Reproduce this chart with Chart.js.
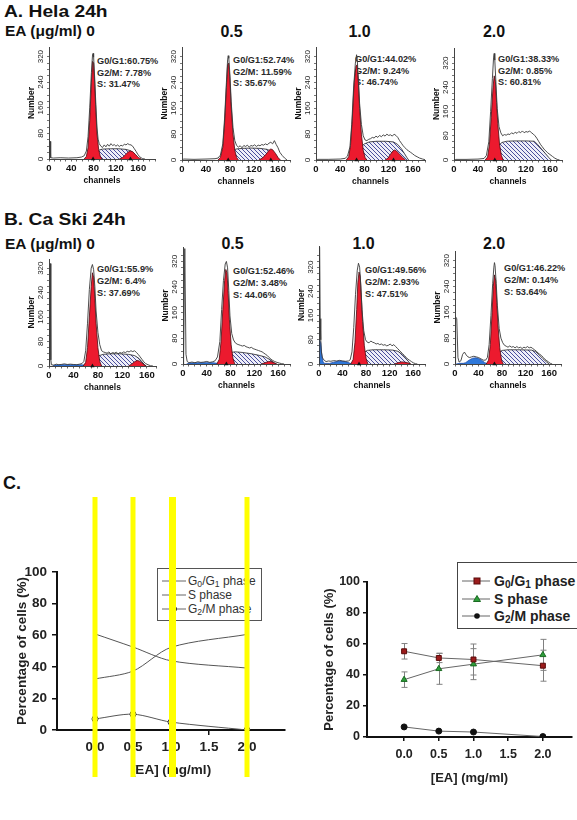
<!DOCTYPE html>
<html>
<head>
<meta charset="utf-8">
<script src="https://cdn.jsdelivr.net/npm/chart.js@4.4.1/dist/chart.umd.min.js"></script>
<style>
  body { margin: 0; background: #fff; width: 577px; height: 820px; overflow: hidden; position: relative;
         font-family: "Liberation Sans", Arial, sans-serif; color: #111; }
  .abs { position: absolute; white-space: nowrap; line-height: 1; }
  .head { font-weight: bold; font-size: 17px; transform: scaleX(1.13); transform-origin: left top; }
  .ea { font-weight: bold; font-size: 15.5px; }
  .dose { font-weight: bold; font-size: 16px; transform: translateX(-50%); }
  .stat { position: absolute; white-space: nowrap; font-weight: bold; font-size: 9.2px; color: #2a2a2a; }
  canvas { position: absolute; }
  .leg { position: absolute; background: #fff; }
  sub { font-size: 72%; vertical-align: -0.22em; line-height: 0; }
</style>
</head>
<body>

<div class="abs head" style="left:4px; top:3px;">A. Hela 24h</div>
<div class="abs head" style="left:4px; top:211px;">B. Ca Ski 24h</div>
<div class="abs head" style="left:3px; top:474px; transform:none; font-size:18px;">C.</div>

<!-- legend of the left summary chart (sits under its canvas) -->
<div class="leg" id="legL" style="left:157px; top:568px; width:103px; height:51px; border:1px solid #555; font-size:12px; color:#333;"></div>
<!-- legend of the right summary chart -->
<div class="leg" id="legR" style="left:457px; top:562px; width:130px; height:65px; border:1px solid #444; font-size:14px; font-weight:bold; color:#222; z-index:5;"></div>

<script>
// ---------- data ----------
const doses = ['0', '0.5', '1.0', '2.0'];

// percentages printed on each histogram
const helaG1 = [60.75, 52.74, 44.02, 38.33];
const helaG2 = [7.78, 11.59, 9.24, 0.85];
const helaS = [31.47, 35.67, 46.74, 60.81];
const caskiG1 = [55.9, 52.46, 49.56, 46.22];
const caskiG2 = [6.4, 3.48, 2.93, 0.14];
const caskiS = [37.69, 44.06, 47.51, 53.64];

// histogram curves, [channel, count]
const helaTotal = [
  [[0,0],[2,55],[3,4],[8,3],[20,4],[35,3],[50,4],[58,6],[63,10],[67,25],[70,70],[73,160],[76,270],[78,325],[79,330],[80,318],[82,250],[84,170],[86,100],[88,62],[90,48],[93,40],[96,36],[99,44],[102,38],[105,46],[108,40],[111,48],[114,42],[117,45],[120,40],[123,44],[126,39],[129,43],[132,41],[135,46],[138,44],[141,48],[144,45],[147,44],[150,40],[153,32],[156,24],[159,15],[162,8],[165,4],[168,1],[172,0]],
  [[0,0],[3,3],[20,2],[40,3],[55,4],[60,6],[64,15],[68,50],[71,130],[74,240],[76,310],[77,323],[78,315],[80,260],[82,180],[85,100],[88,60],[91,45],[94,40],[97,44],[100,38],[103,45],[106,42],[109,46],[112,40],[115,45],[118,43],[121,47],[124,42],[127,46],[130,44],[133,48],[136,46],[139,50],[142,47],[145,52],[148,55],[151,50],[154,60],[157,48],[160,38],[163,24],[167,14],[171,6],[175,0]],
  [[0,0],[3,2],[20,2],[40,3],[48,5],[52,12],[56,40],[59,110],[62,220],[65,300],[67,326],[68,315],[70,250],[72,175],[75,110],[78,75],[81,62],[84,60],[87,64],[90,66],[93,70],[96,68],[99,74],[102,70],[105,76],[108,72],[111,78],[114,74],[117,80],[120,76],[123,78],[126,74],[129,80],[132,76],[135,70],[138,60],[141,52],[144,44],[147,38],[150,32],[153,28],[156,24],[159,20],[163,14],[167,10],[171,6],[176,3],[182,0]],
  [[0,0],[3,2],[20,2],[40,3],[50,5],[54,15],[58,60],[61,160],[64,270],[66,340],[67,352],[68,330],[70,250],[72,170],[75,110],[78,90],[81,80],[84,84],[87,82],[90,86],[93,84],[96,90],[99,86],[102,92],[105,88],[108,94],[111,90],[114,96],[117,90],[120,94],[123,92],[126,96],[129,90],[132,86],[135,80],[138,72],[141,62],[144,52],[147,44],[150,36],[153,30],[156,24],[160,18],[164,12],[168,6],[172,2],[176,0]]
];
const helaG1Fit = [
  [[63,0],[67,8],[70,35],[73,120],[76,240],[78,305],[80,300],[82,235],[84,150],[86,80],[89,30],[92,8],[95,0]],
  [[60,0],[64,8],[68,40],[71,115],[74,225],[76,295],[78,300],[80,245],[82,165],[85,80],[88,30],[91,8],[94,0]],
  [[50,0],[54,10],[57,45],[60,130],[63,240],[66,290],[68,295],[70,240],[72,160],[75,80],[78,30],[81,8],[84,0]],
  [[52,0],[56,10],[59,50],[62,140],[65,240],[67,278],[69,260],[71,190],[73,120],[76,50],[79,15],[82,0]]
];
const helaG2Fit = [
  [[126,0],[132,5],[137,13],[142,22],[146,25],[150,23],[155,14],[160,5],[165,0]],
  [[128,0],[134,6],[140,18],[145,30],[148,34],[151,32],[156,20],[160,8],[164,0]],
  [[114,0],[119,6],[123,18],[127,28],[130,31],[133,28],[138,18],[143,8],[148,0]],
  []
];
const helaSFit = [
  [[66,0],[72,6],[78,14],[84,22],[90,28],[96,31],[110,32],[125,32],[138,30],[146,26],[152,18],[157,8],[161,0]],
  [[64,0],[70,8],[76,18],[83,28],[90,34],[100,36],[115,37],[130,36],[142,33],[150,26],[156,15],[160,5],[163,0]],
  [[55,0],[62,10],[68,25],[74,40],[80,50],[88,56],[100,58],[115,58],[128,56],[135,48],[141,35],[146,20],[150,8],[153,0]],
  [[56,0],[62,12],[68,30],[74,48],[80,58],[88,62],[100,63],[120,63],[134,62],[140,50],[146,36],[152,22],[158,8],[162,0]]
];
const helaPeaks = [[79, 146], [77, 148], [67, 128], [68]];

const caskiTotal = [
  [[0,0],[1,10],[2,335],[3,20],[4,4],[8,3],[12,6],[16,4],[20,5],[25,7],[30,5],[35,6],[40,5],[45,4],[50,6],[54,8],[57,15],[60,50],[63,140],[66,250],[69,320],[71,332],[73,315],[75,260],[77,180],[80,110],[83,70],[86,50],[89,46],[92,44],[95,42],[98,46],[101,40],[104,44],[107,42],[110,45],[113,40],[116,44],[119,42],[122,46],[125,44],[128,48],[131,46],[134,50],[137,47],[140,50],[143,44],[146,38],[149,30],[152,22],[155,14],[158,8],[162,4],[166,1],[170,0]],
  [[0,0],[1,20],[3,360],[5,30],[7,8],[10,4],[15,6],[20,4],[25,7],[30,5],[35,6],[40,8],[45,5],[50,7],[54,10],[58,22],[62,70],[65,170],[68,260],[71,312],[73,320],[75,300],[77,230],[79,150],[82,95],[85,75],[88,66],[91,62],[94,60],[97,58],[100,56],[103,58],[106,54],[109,52],[112,50],[115,52],[118,48],[121,46],[124,44],[127,42],[130,40],[133,38],[136,34],[139,30],[142,26],[145,20],[148,15],[151,11],[154,8],[158,5],[162,3],[166,1],[170,0]],
  [[0,0],[1,386],[2,150],[3,80],[4,40],[6,20],[9,12],[12,8],[16,10],[20,9],[25,11],[30,10],[35,12],[40,10],[45,9],[50,10],[53,14],[56,40],[59,120],[62,230],[65,310],[67,333],[69,320],[71,260],[73,180],[76,110],[79,80],[82,72],[85,70],[88,76],[91,72],[94,70],[97,66],[100,68],[103,64],[106,66],[109,62],[112,64],[115,60],[118,62],[121,66],[124,60],[127,64],[130,58],[133,52],[136,46],[139,40],[142,34],[145,28],[148,22],[151,16],[154,12],[157,8],[160,4],[164,1],[167,0]],
  [[0,0],[1,146],[3,140],[5,20],[7,6],[10,10],[13,30],[16,37],[19,28],[22,22],[25,20],[28,22],[32,24],[36,22],[40,20],[44,16],[48,12],[52,12],[55,20],[58,60],[61,150],[64,250],[66,300],[67,314],[68,305],[70,250],[72,180],[75,110],[78,80],[81,66],[84,58],[87,55],[90,52],[93,56],[96,52],[99,54],[102,50],[105,54],[108,50],[111,52],[114,48],[117,52],[120,50],[123,54],[126,50],[129,52],[132,48],[135,44],[138,40],[141,34],[144,30],[147,26],[150,20],[153,14],[156,10],[159,6],[162,2],[165,0]]
];
const caskiG1Fit = [
  [[56,0],[60,12],[63,60],[66,160],[69,260],[71,305],[73,290],[75,220],[77,140],[80,60],[83,15],[86,0]],
  [[57,0],[61,15],[64,70],[67,170],[70,260],[72,295],[74,285],[76,220],[78,140],[81,60],[84,18],[87,0]],
  [[54,0],[58,15],[61,70],[64,180],[66,270],[68,304],[70,290],[72,220],[74,140],[77,60],[80,18],[83,0]],
  [[53,0],[57,12],[60,60],[63,160],[65,240],[67,276],[69,260],[71,190],[73,120],[76,50],[79,12],[82,0]]
];
const caskiG2Fit = [
  [[130,0],[135,6],[140,14],[144,18],[148,16],[152,10],[156,3],[159,0]],
  [[132,0],[138,4],[144,8],[149,7],[154,3],[158,0]],
  [[128,0],[134,4],[140,7],[146,6],[152,3],[156,0]],
  []
];
const caskiSFit = [
  [[62,0],[68,10],[74,22],[80,32],[88,38],[100,40],[115,40],[130,38],[140,34],[147,25],[152,14],[156,5],[159,0]],
  [[62,0],[68,12],[74,28],[80,36],[88,38],[100,36],[115,32],[128,27],[138,22],[146,14],[152,6],[156,0]],
  [[58,0],[64,10],[70,25],[76,38],[82,45],[92,47],[110,47],[125,46],[134,42],[141,32],[147,20],[152,8],[155,0]],
  [[56,0],[62,10],[68,24],[74,36],[80,42],[90,44],[110,44],[130,43],[137,38],[143,28],[149,17],[155,7],[160,0]]
];
const caskiDebris = [
  [[6,0],[10,3],[20,4],[35,4],[50,4],[58,3],[62,0]],
  [[6,0],[12,3],[30,4],[50,4],[58,2],[62,0]],
  [[0,0],[0.5,80],[3,70],[5,25],[7,6],[10,2],[18,2],[25,6],[35,10],[45,8],[52,3],[56,0]],
  [[2,0],[8,2],[14,2],[18,4],[24,12],[30,18],[35,19],[40,17],[45,12],[50,5],[55,0]]
];
const caskiPeaks = [[71], [73], [68], [67]];

// summary charts
const eaDose = [0, 0.5, 1.0, 2.0];
const eaTicks = [0, 0.5, 1.0, 1.5, 2.0];
const pctTicks = [0, 20, 40, 60, 80, 100];
const histXTicks = [0, 40, 80, 120, 160];
const histYTicks = [0, 80, 160, 240, 320];

const leftG1 = [60.8, 52.5, 43.8, 39.2];
const leftS = [32.3, 37.3, 52.3, 60.5];
const leftG2 = [7, 10, 5, 0];

const rightG1 = [55.3, 51, 50, 46];
const rightG1Err = [5, 3, 10, 10];
const rightS = [37, 44, 47, 53];
const rightSErr = [5, 10, 10, 10];
const rightG2 = [6.5, 3.8, 3.2, 0.3];

// ---------- layout (pixels on the page) ----------
// x at channel 0, x at channel 160, y at count 0, y at count 320, x max, y max
const helaBox = [[49,139,159,57,190,350],[182,279,160,57,180,350],[316,414,160,57,180,350],[454,551,160,63,180,370]];
const caskiBox = [[49,148,366,268,175,350],[183,279,364,261,180,365],[319,414,364,267,180,390],[455,550,364,261,180,350]];
const helaStatPos = [[97,56],[233,55],[355,54],[498,54]];
const caskiStatPos = [[97,263],[233,265],[365,264],[504,262]];
const helaDosePos = [[231.5,23.5],[359.5,23.5],[494,23.5]];
const caskiDosePos = [[232.5,235.5],[363.5,235.5],[494,235.5]];

Chart.defaults.font.family = '"Liberation Sans", Arial, sans-serif';
Chart.defaults.color = '#222';

function addText(cls, html, left, top, extra) {
  const d = document.createElement('div');
  d.className = cls;
  d.innerHTML = html;
  d.style.left = left + 'px';
  d.style.top = top + 'px';
  if (extra) Object.assign(d.style, extra);
  document.body.appendChild(d);
  return d;
}

// headings
addText('abs ea', 'EA (&mu;g/ml) ' + doses[0], 5, 23.4);
addText('abs ea', 'EA (&mu;g/ml) ' + doses[0], 5, 235.9);
helaDosePos.forEach((p, i) => addText('abs dose', doses[i + 1], p[0], p[1]));
caskiDosePos.forEach((p, i) => addText('abs dose', doses[i + 1], p[0], p[1]));

function statBlock(pos, g1, g2, s, lh) {
  addText('stat', 'G0/G1:' + g1 + '%<br>G2/M: ' + g2 + '%<br>S: ' + s + '%', pos[0], pos[1], {lineHeight: lh + 'px'});
}
helaStatPos.forEach((p, i) => statBlock(p, helaG1[i], helaG2[i], helaS[i], 11.5));
caskiStatPos.forEach((p, i) => statBlock(p, caskiG1[i], caskiG2[i], caskiS[i], 12));

// blue/white diagonal hatch for the S phase fit
function makeHatch() {
  const c = document.createElement('canvas');
  c.width = 4; c.height = 4;
  const g = c.getContext('2d');
  g.fillStyle = '#eeeef8';
  g.fillRect(0, 0, 4, 4);
  g.fillStyle = '#4a4f9c';
  for (let i = 0; i < 4; i++) g.fillRect(i, i, 1, 1);
  return g.createPattern(c, 'repeat');
}
const hatch = makeHatch();

const pts = arr => arr.map(p => ({x: p[0], y: p[1]}));

function drawHist(box, total, g1, g2, s, debris, peaks) {
  const [x0, x160, y0, y320, xMax, yMax] = box;
  const pxX = (x160 - x0) / 160, pxY = (y0 - y320) / 320;
  const yTop = y0 - yMax * pxY;
  const cv = document.createElement('canvas');
  cv.width = Math.round(30 + xMax * pxX + 3);
  cv.height = Math.round(4 + yMax * pxY + 28);
  cv.style.left = (x0 - 30) + 'px';
  cv.style.top = Math.round(yTop - 4) + 'px';
  document.body.appendChild(cv);

  const redFit = d => ({data: pts(d), borderColor: '#4a0a10', borderWidth: 0.8, backgroundColor: '#ec1a2e', fill: 'origin', pointRadius: 0});
  new Chart(cv, {
    type: 'line',
    data: {
      datasets: [
        {data: peaks.map(c => ({x: c, y: 0})), showLine: false, pointStyle: 'triangle', pointRadius: 2.5,
         pointBackgroundColor: '#111', pointBorderWidth: 0, clip: false},
        {data: pts(total), borderColor: '#3a3a3a', borderWidth: 0.9, pointRadius: 0, fill: false},
        redFit(g1),
        redFit(g2),
        {data: pts(s), borderColor: '#222', borderWidth: 0.8, backgroundColor: hatch, fill: 'origin', pointRadius: 0},
        {data: pts(debris), borderColor: '#1d4aa8', borderWidth: 0.8, backgroundColor: '#2f78da', fill: 'origin', pointRadius: 0}
      ]
    },
    options: {
      animation: false, responsive: false, events: [],
      layout: {padding: {top: 4, right: 3, bottom: 0, left: 0}},
      plugins: {legend: {display: false}, tooltip: {enabled: false}},
      scales: {
        x: {
          type: 'linear', min: 0, max: xMax,
          ticks: {stepSize: 10, autoSkip: false, maxRotation: 0, padding: 1,
                  callback: v => histXTicks.includes(v) ? String(v) : '',
                  font: {size: 9.5, weight: 'bold'}, color: '#111'},
          grid: {drawOnChartArea: false, tickLength: 2.5, color: '#666'},
          border: {color: '#444', width: 1},
          title: {display: true, text: 'channels', font: {size: 8.5, weight: 'bold'}, color: '#111', padding: {top: 0, bottom: 1}},
          afterFit: a => { a.height = 28; a.paddingLeft = 0; a.paddingRight = 0; }
        },
        y: {
          min: 0, max: yMax,
          afterBuildTicks: sc => { sc.ticks = sc.ticks.filter(t => t.value % 20 === 0); },
          ticks: {stepSize: 20, autoSkip: false, minRotation: 90, maxRotation: 90, crossAlign: 'center', padding: 0,
                  callback: v => histYTicks.includes(v) ? String(v) : '',
                  font: {size: 8}, color: '#222'},
          grid: {drawOnChartArea: false, tickLength: 2, color: '#777'},
          border: {color: '#444', width: 1},
          title: {display: true, text: 'Number', font: {size: 8.5, weight: 'bold'}, color: '#111', padding: {top: 8, bottom: 0}},
          afterFit: a => { a.width = 30; a.paddingTop = 0; a.paddingBottom = 0; }
        }
      }
    }
  });
}

helaBox.forEach((b, i) => drawHist(b, helaTotal[i], helaG1Fit[i], helaG2Fit[i], helaSFit[i], [], helaPeaks[i]));
caskiBox.forEach((b, i) => drawHist(b, caskiTotal[i], caskiG1Fit[i], caskiG2Fit[i], caskiSFit[i], caskiDebris[i], caskiPeaks[i]));

// ---------- part C ----------
const xy = (xs, ys) => xs.map((x, i) => ({x: x, y: ys[i]}));

// yellow highlighter strokes over the left chart
const highlight = {
  id: 'highlight',
  afterDraw(chart, args, opts) {
    const {ctx, scales: {x}} = chart;
    ctx.save();
    ctx.fillStyle = opts.color;
    opts.at.forEach((v, i) => {
      const w = opts.widths[i];
      ctx.fillRect(x.getPixelForValue(v) - w / 2 + (opts.shift[i] || 0), opts.top, w, opts.height);
    });
    ctx.restore();
  }
};

const errorBars = {
  id: 'errorBars',
  beforeDatasetsDraw(chart) {
    const {ctx, scales: {x, y}} = chart;
    ctx.save();
    ctx.strokeStyle = '#808080';
    ctx.lineWidth = 1;
    chart.data.datasets.forEach(ds => {
      if (!ds.errors) return;
      ds.data.forEach((p, i) => {
        const e = ds.errors[i];
        const px = Math.round(x.getPixelForValue(p.x)) + 0.5;
        const t = y.getPixelForValue(p.y + e), b = y.getPixelForValue(p.y - e);
        ctx.beginPath();
        ctx.moveTo(px, t); ctx.lineTo(px, b);
        ctx.moveTo(px - 3, t); ctx.lineTo(px + 3, t);
        ctx.moveTo(px - 3, b); ctx.lineTo(px + 3, b);
        ctx.stroke();
      });
    });
    ctx.restore();
  }
};

function summaryScales(o) {
  return {
    x: {
      type: 'linear', min: o.xMin, max: o.xMax,
      afterBuildTicks: sc => { sc.ticks = eaTicks.map(v => ({value: v})); },
      ticks: {autoSkip: false, maxRotation: 0, padding: o.xPad, callback: v => v.toFixed(1),
              font: {size: o.tick, weight: 'bold'}, color: '#222'},
      grid: {drawOnChartArea: false, tickLength: o.tl, color: '#111', lineWidth: 1.5},
      border: {color: '#111', width: 2},
      title: {display: true, text: '[EA] (mg/ml)', font: {size: o.title, weight: 'bold'}, color: '#222',
              padding: {top: 0, bottom: o.xTitlePad}},
      afterFit: a => { a.height = o.xH; a.paddingLeft = 0; a.paddingRight = 0; }
    },
    y: {
      min: 0, max: 100,
      afterBuildTicks: sc => { sc.ticks = pctTicks.map(v => ({value: v})); },
      ticks: {padding: o.yPad, font: {size: o.tick, weight: 'bold'}, color: '#222'},
      grid: {drawOnChartArea: false, tickLength: o.tl, color: '#111', lineWidth: 1.5},
      border: {color: '#111', width: 2},
      title: {display: true, text: 'Percentage of cells (%)', font: {size: o.title, weight: 'bold'}, color: '#222',
              padding: {top: o.yTitlePad, bottom: 0}},
      afterFit: a => { a.width = o.yW; a.paddingTop = 0; a.paddingBottom = 0; }
    }
  };
}

function addCanvas(left, top, w, h, z) {
  const cv = document.createElement('canvas');
  cv.width = w; cv.height = h;
  cv.style.left = left + 'px'; cv.style.top = top + 'px';
  if (z) cv.style.zIndex = z;
  document.body.appendChild(cv);
  return cv;
}

// left summary chart (smoothed lines, highlighted doses)
new Chart(addCanvas(0, 490, 290, 290, 3), {
  type: 'line',
  data: {
    datasets: [
      {label: 'G0/G1 phase', data: xy(eaDose, leftG1), borderColor: '#555', borderWidth: 1, pointRadius: 0, tension: 0.3},
      {label: 'S phase', data: xy(eaDose, leftS), borderColor: '#555', borderWidth: 1, pointRadius: 0, tension: 0.3},
      {label: 'G2/M phase', data: xy(eaDose, leftG2), borderColor: '#555', borderWidth: 1, tension: 0.3,
       pointRadius: 3, pointBackgroundColor: '#ffffd8', pointBorderColor: '#333', pointBorderWidth: 1}
    ]
  },
  options: {
    animation: false, responsive: false, events: [],
    layout: {padding: {top: 82, right: 5, bottom: 2, left: 0}},
    plugins: {
      legend: {display: false}, tooltip: {enabled: false},
      highlight: {at: eaDose, widths: [5, 5, 7, 5], shift: [0, 0, 1.5, 0], color: '#ffff00', top: 7, height: 280}
    },
    scales: summaryScales({xMin: -0.5, xMax: 2.5, tick: 13.5, title: 13.5, tl: 5, xPad: 4, yPad: 5,
                           xH: 48, yW: 57, xTitlePad: 0, yTitlePad: 14})
  },
  plugins: [highlight]
});

// right summary chart (mean ± error)
new Chart(addCanvas(290, 560, 287, 240, 3), {
  type: 'line',
  data: {
    datasets: [
      {label: 'G0/G1 phase', data: xy(eaDose, rightG1), errors: rightG1Err, borderColor: '#666', borderWidth: 1,
       pointStyle: 'rect', pointRadius: 3.5, pointBackgroundColor: '#9b1c1c', pointBorderColor: '#5a0a0a', pointBorderWidth: 1},
      {label: 'S phase', data: xy(eaDose, rightS), errors: rightSErr, borderColor: '#666', borderWidth: 1,
       pointStyle: 'triangle', pointRadius: 3.5, pointBackgroundColor: '#2e9e3a', pointBorderColor: '#1a6a22', pointBorderWidth: 1},
      {label: 'G2/M phase', data: xy(eaDose, rightG2), borderColor: '#666', borderWidth: 1,
       pointStyle: 'circle', pointRadius: 3, pointBackgroundColor: '#111', pointBorderColor: '#111', pointBorderWidth: 1}
    ]
  },
  options: {
    animation: false, responsive: false, events: [],
    layout: {padding: {top: 22, right: 0, bottom: 0, left: 0}},
    plugins: {legend: {display: false}, tooltip: {enabled: false}},
    scales: summaryScales({xMin: -0.535, xMax: 2.42, tick: 12.5, title: 13, tl: 4, xPad: 6, yPad: 3,
                           xH: 63, yW: 77, xTitlePad: 14, yTitlePad: 32})
  },
  plugins: [errorBars]
});

// ---------- HTML legends ----------
const legendNames = ['G<sub>0</sub>/G<sub>1</sub> phase', 'S phase', 'G<sub>2</sub>/M phase'];

function legendRow(box, html, cy, lineX, lineW, textX, marker) {
  const row = document.createElement('div');
  row.style.cssText = 'position:absolute;left:0;top:' + (cy - 8) + 'px;height:16px;width:200px;';
  row.innerHTML =
    '<svg width="' + (lineX + lineW + 2) + '" height="16" style="position:absolute;left:0;top:0">' +
    '<line x1="' + lineX + '" y1="8" x2="' + (lineX + lineW) + '" y2="8" stroke="#666" stroke-width="1"/>' + marker +
    '</svg><span style="position:absolute;left:' + textX + 'px;top:8px;transform:translateY(-50%);white-space:nowrap;line-height:1">' + html + '</span>';
  box.appendChild(row);
}

const legL = document.getElementById('legL');
legendRow(legL, legendNames[0], 12, 4, 24, 30, '');
legendRow(legL, legendNames[1], 26, 4, 24, 30, '');
legendRow(legL, legendNames[2], 40, 4, 24, 30, '<circle cx="16" cy="8" r="2.6" fill="#ffffd8" stroke="#333" stroke-width="1"/>');

const legR = document.getElementById('legR');
legendRow(legR, legendNames[0], 18, 4, 28, 36, '<rect x="16" y="5" width="6" height="6" fill="#9b1c1c" stroke="#5a0a0a"/>');
legendRow(legR, legendNames[1], 36, 4, 28, 36, '<polygon points="19,4.5 22.5,10.5 15.5,10.5" fill="#2e9e3a" stroke="#1a6a22"/>');
legendRow(legR, legendNames[2], 53, 4, 28, 36, '<circle cx="19" cy="8" r="2.8" fill="#111"/>');
</script>
</body>
</html>
